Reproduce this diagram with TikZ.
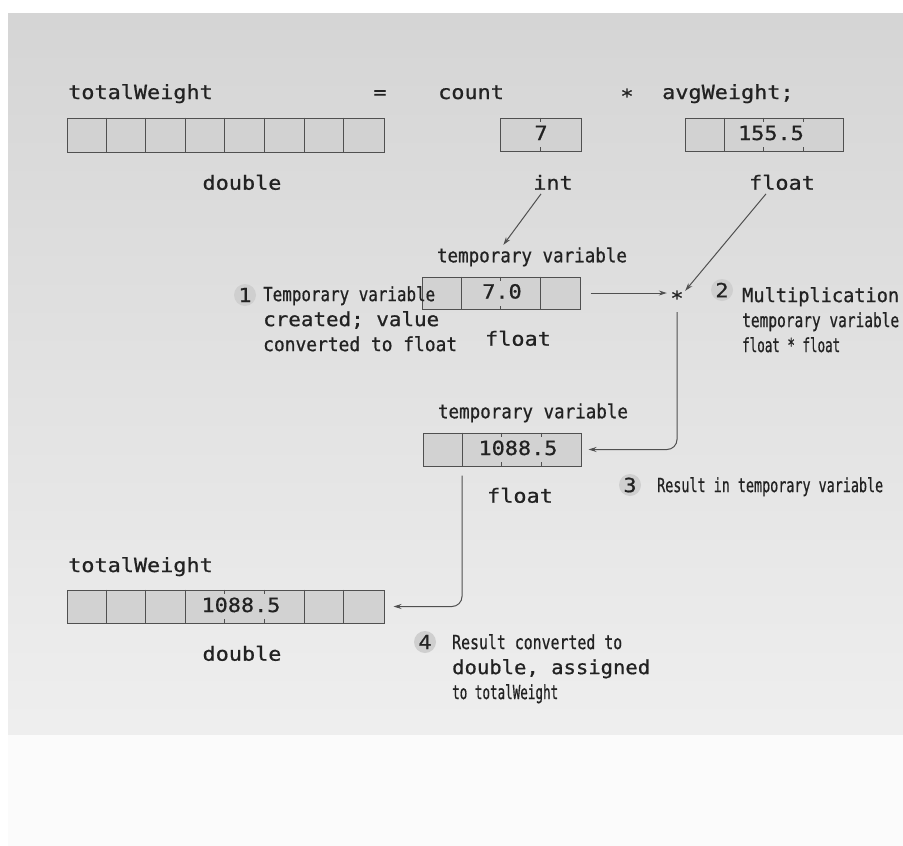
\documentclass[tikz,border=0pt]{standalone}
\usepackage{fontspec}
\usepackage{graphicx}
\usetikzlibrary{arrows.meta, positioning}
\newfontfamily\codefont[FakeStretch=1.12, FakeBold=0.8]{DejaVu Sans Mono}
\newcommand{\fitw}[2]{\resizebox{#1}{\height}{#2}}
\definecolor{inkgray}{HTML}{222222}
\definecolor{linegray}{HTML}{505050}
\definecolor{cellgray}{HTML}{D2D2D2}

\begin{document}
\begin{tikzpicture}[
        x=1pt, y=-1pt,
        codetxt/.style={font=\codefont\fontsize{19.5pt}{25pt}\selectfont, text=inkgray, inner sep=0pt},
        word/.style={codetxt, text height=14pt, text depth=4pt},
        note/.style={codetxt, align=left, anchor=north west},
        membox/.style={rectangle, draw=linegray, fill=cellgray, line width=1pt, minimum height=33pt, inner sep=0pt},
        value/.style={word, fill=cellgray, inner xsep=1pt, inner ysep=4pt, text depth=3pt},
        divider/.style={draw=linegray, line width=0.9pt},
        callnum/.style={circle, fill=gray!38, minimum size=22pt, inner sep=0pt, font=\codefont\fontsize{19.5pt}{25pt}\selectfont, text=inkgray},
        arrow/.style={-{Stealth[length=8pt, width=5pt]}, line width=1pt, draw=linegray}
    ]

    % Background
    \useasboundingbox (0,0) rectangle (903,846);
    \fill[top color=gray!33, bottom color=gray!13] (8,13) rectangle (903,735);
    \fill[gray!3] (8,735) rectangle (903,846);

    % Statement
    \node (totLblA) [word, anchor=west] at (68,94) {totalWeight};
    \node (assign) [word] at (380,94) {=};
    \node (cntLbl) [word, anchor=west] at (438,94) {count};
    \node (mulOp) [word] at (627,98) {*};
    \node (avgLbl) [word, anchor=west] at (662,94) {avgWeight;};

    % Memory boxes
    \node (totTop) [membox, minimum width=317pt, minimum height=34pt] at (225.5,135) {};
    \foreach \i in {1,...,7} \draw[divider] (totTop.north west) ++(\i*39.6,0) -- ++(0,34);
    \node (countBox) [membox, minimum width=81pt] at (540.5,134.5) {};
    \draw[divider] (countBox.north west) ++(40.5,0) -- ++(0,33);
    \node (avgBox) [membox, minimum width=158pt] at (764,134.5) {};
    \foreach \i in {1,...,3} \draw[divider] (avgBox.north west) ++(\i*39.5,0) -- ++(0,33);
    \node (tmpBoxA) [membox, minimum width=158pt, minimum height=32pt] at (501,293) {};
    \foreach \i in {1,...,3} \draw[divider] (tmpBoxA.north west) ++(\i*39.5,0) -- ++(0,32);
    \node (tmpBoxB) [membox, minimum width=158pt] at (502,449.5) {};
    \foreach \i in {1,...,3} \draw[divider] (tmpBoxB.north west) ++(\i*39.5,0) -- ++(0,33);
    \node (totBot) [membox, minimum width=317pt] at (225.5,606.5) {};
    \foreach \i in {1,...,7} \draw[divider] (totBot.north west) ++(\i*39.6,0) -- ++(0,33);

    % Values
    \node (valCount) [value] at (541,134.5) {7};
    \node (valAvg) [value] at (771,134.5) {155.5};
    \node (valTmpA) [value] at (502,293) {7.0};
    \node (valTmpB) [value] at (518,449.5) {1088.5};
    \node (valTot) [value] at (241,606.5) {1088.5};

    % Type and name labels
    \node (dblLblA) [word, below=23pt of totTop, xshift=16.5pt] {double};
    \node (intLbl) [word, below=24pt of countBox, xshift=12.5pt] {int};
    \node (fltLbl) [word, below=24pt of avgBox, xshift=18pt] {float};
    \node (tmpLblA) [word, above=10pt of tmpBoxA, xshift=31pt] {\fitw{190pt}{temporary variable}};
    \node (fltLblA) [word, below=22pt of tmpBoxA, xshift=17pt] {float};
    \node (star) [word, minimum width=16pt] at (677,300) {*};
    \node (tmpLblB) [word, above=10pt of tmpBoxB, xshift=31pt] {\fitw{190pt}{temporary variable}};
    \node (fltLblB) [word, below=22pt of tmpBoxB, xshift=18pt] {float};
    \node (totLblB) [word, anchor=west] at (68,567) {totalWeight};
    \node (dblLblB) [word, below=23pt of totBot, xshift=16.5pt] {double};

    % Callouts
    \node (c1) [callnum] at (245,295) {1};
    \node (n1) [note] at (263,286) {\fitw{172pt}{Temporary variable}\\\fitw{176pt}{created; value}\\\fitw{194pt}{converted to float}};
    \node (c2) [callnum] at (722,290) {2};
    \node (n2) [note] at (742,287) {\fitw{157pt}{Multiplication}\\\fitw{157pt}{temporary variable}\\\fitw{98pt}{float * float}};
    \node (c3) [callnum] at (630,485) {3};
    \node (n3) [note] at (657,477) {\fitw{226pt}{Result in temporary variable}};
    \node (c4) [callnum] at (425,642) {4};
    \node (n4) [note] at (452,634) {\fitw{170pt}{Result converted to}\\\fitw{198pt}{double, assigned}\\\fitw{106pt}{to totalWeight}};

    % Arrows
    \draw [arrow, shorten >=4pt] ([xshift=-12pt]intLbl.south) -- ([xshift=-31pt]tmpLblA.north);
    \draw [arrow] ([xshift=-16pt]fltLbl.south) -- (star.north east);
    \draw [arrow, shorten <=10pt, shorten >=2pt] (tmpBoxA.east) -- (tmpBoxA.east -| star.west);
    \draw [arrow, rounded corners=10pt, shorten <=3pt] (star.south) |- ([xshift=7pt]tmpBoxB.east);
    \draw [arrow, rounded corners=10pt, shorten <=9pt] ([xshift=39.5pt]tmpBoxB.south west) |- ([xshift=9pt]totBot.east);

\end{tikzpicture}
\end{document}
